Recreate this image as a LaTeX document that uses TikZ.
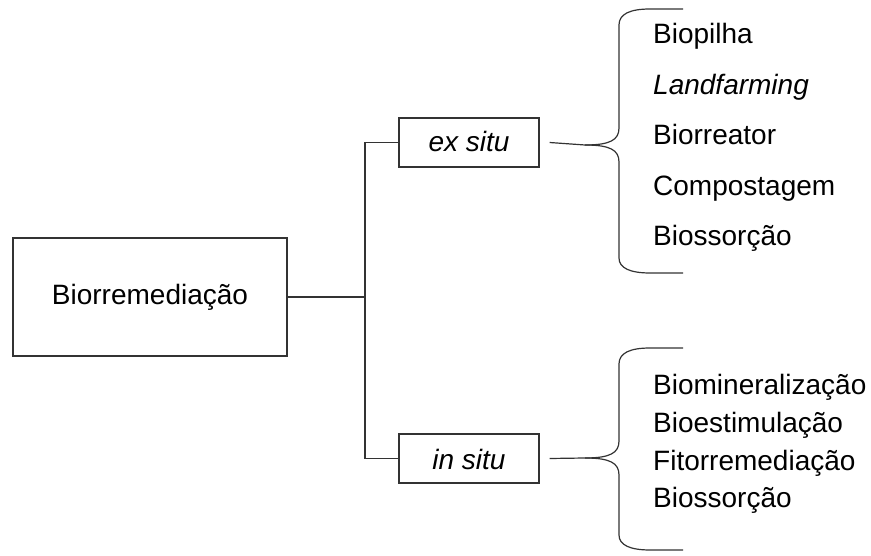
\documentclass[tikz,border=0pt]{standalone}
\usepackage{fontspec}
\setmainfont{Liberation Sans}
\begin{document}
\begin{tikzpicture}[x=1pt,y=1pt,
  lin/.style={draw=black!80,line width=1.2pt},
  box/.style={draw=black!80,line width=1.2pt,rectangle,inner sep=0pt,font=\fontsize{28}{30}\selectfont},
  item/.style={anchor=base west,inner sep=0pt,font=\fontsize{28}{30}\selectfont}]
\useasboundingbox (0,0) rectangle (871,-556);
% main box
\node[box,minimum width=274pt,minimum height=118pt] (main) at (150,-297) {};
\node[anchor=base,inner sep=0pt,font=\fontsize{28}{30}\selectfont] (maintxt) at (150,-305) {Biorremediação};
\node[box,minimum width=140pt,minimum height=49pt] (ex) at (469,-142.5) {};
\node[anchor=base,inner sep=0pt,font=\fontsize{28}{30}\selectfont\itshape] (extxt) at (469,-152) {ex situ};
\node[box,minimum width=140pt,minimum height=49pt] (in) at (469,-458.5) {};
\node[anchor=base,inner sep=0pt,font=\fontsize{28}{30}\selectfont\itshape] (intxt) at (469,-469) {in situ};
% tree connectors
\coordinate (j) at (365,-297);
\draw[lin] (main.east) -- (j);
\draw[lin] (ex.west) -| (j) |- (in.west);
% braces
\coordinate (b1) at (549,-145);
\coordinate (b2) at (549,-458);
\draw[lin] ([xshift=10pt]ex.east) -- (585,-145)
  .. controls (610,-145) and (619,-140) .. (619,-128) -- (619,-25)
  .. controls (619,-14) and (630,-9) .. (650,-9) -- (683,-9);
\draw[lin] (585,-145) .. controls (610,-145) and (619,-150) .. (619,-162) -- (619,-258)
  .. controls (619,-268) and (630,-273) .. (650,-273) -- (683,-273);
\draw[lin] ([xshift=10pt]in.east) -- (585,-458)
  .. controls (610,-458) and (619,-453) .. (619,-441) -- (619,-364)
  .. controls (619,-353) and (630,-348) .. (650,-348) -- (683,-348);
\draw[lin] (585,-458) .. controls (610,-458) and (619,-463) .. (619,-475) -- (619,-535)
  .. controls (619,-545) and (630,-550) .. (650,-550) -- (683,-550);
% items
\node[item] (e1) at (653,-44) {Biopilha};
\node[item] (e2) at (653,-94.5) {\itshape Landfarming};
\node[item] (e3) at (653,-145) {Biorreator};
\node[item] (e4) at (653,-195.5) {Compostagem};
\node[item] (e5) at (653,-246) {Biossorção};
\node[item] (i1) at (653,-394) {Biomineralização};
\node[item] (i2) at (653,-432) {Bioestimulação};
\node[item] (i3) at (653,-470) {Fitorremediação};
\node[item] (i4) at (653,-507.5) {Biossorção};
\end{tikzpicture}
\end{document}
